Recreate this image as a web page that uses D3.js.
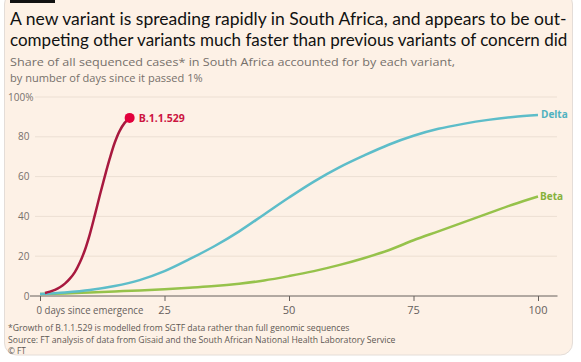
<!DOCTYPE html>
<html><head><meta charset="utf-8">
<script src="https://cdn.jsdelivr.net/npm/d3@7"></script>
<style>
html,body{margin:0;padding:0;background:#fff;}
svg{display:block;}
text{font-family:"Open Sans",Lato,sans-serif;}
</style></head>
<body>
<svg id="c" width="581" height="362"></svg>
<script>
// ---- data ----
const omicronDays = [1,2,3,4,5,6,7,8,9,10,11,12,13,14,15,16,17,18];
const omicronShare = [1.5,2.2,3.1,4.4,6.2,8.7,12,16.8,23,31,40.5,50.5,60,69,77,83,87,89.5];
const deltaDays = [0,5,10,15,20,25,30,35,40,45,50,55,60,65,70,75,80,85,90,95,100];
const deltaShare = [1,1.8,3,5,8,12.5,18.5,25,32.5,41,49.5,57.5,64.5,70.5,76,80.5,84,86.5,88.5,90,91];
const betaDays = [0,5,10,15,20,25,30,35,40,45,50,55,60,65,70,75,80,85,90,95,100];
const betaShare = [1,1.3,1.8,2.3,2.8,3.4,4.2,5,6.2,7.8,10,12.5,15.5,19,23,28,32.5,37,41.5,46,50];
const yTicks = [0,20,40,60,80,100];
const xTicks = [0,25,50,75,100];
const titleLines = ["A new variant is spreading rapidly in South Africa, and appears to be out-",
                    "competing other variants much faster than previous variants of concern did"];
const subtitleLines = ["Share of all sequenced cases* in South Africa accounted for by each variant,",
                       "by number of days since it passed 1%"];
const footLines = ["*Growth of B.1.1.529 is modelled from SGTF data rather than full genomic sequences",
                   "Source: FT analysis of data from Gisaid and the South African National Health Laboratory Service",
                   "© FT"];

const svg = d3.select("#c");
// card
svg.append("rect").attr("x",4.5).attr("y",-8).attr("width",568).attr("height",363)
  .attr("rx",12).attr("fill","#fdf1e6").attr("stroke","#e4ddd8").attr("stroke-width",1);
svg.append("rect").attr("x",10).attr("y",0).attr("width",45).attr("height",3).attr("fill","#111");

// place text at (x0,y0) and squeeze horizontally to a target width
function placeText(parent, str, x0, y0, size, fill, w, anchor, family){
  const s = parent.append("text").attr("font-size",size).attr("fill",fill).text(str);
  if (anchor) s.attr("text-anchor",anchor);
  if (family) s.style("font-family",family);
  let k = 1;
  if (w){ const nat = s.node().getComputedTextLength(); k = Math.min(1.15, w/nat); }
  s.attr("transform",`translate(${x0},${y0}) scale(${k},1)`);
  return s;
}
const tw = [557, 558];
titleLines.forEach((t,i)=> placeText(svg, t, 10, 24.5+i*21, 18, "#111", tw[i], null, "Lato"));
const sw = [445, 193];
subtitleLines.forEach((t,i)=> placeText(svg, t, 10, 66+i*15.5, 11, "#76706b", sw[i]));
const fw = [342, 388, null];
footLines.forEach((t,i)=> placeText(svg, t, 8, 331+i*11.5, 8.3, "#5e5853", fw[i]));

const x = d3.scaleLinear().domain([0,100]).range([40,538]);
const y = d3.scaleLinear().domain([0,100]).range([296,97]);

// gridlines
svg.append("g").selectAll("line").data(yTicks.filter(d=>d>0)).join("line")
  .attr("x1",35).attr("x2",557).attr("y1",d=>y(d)).attr("y2",d=>y(d))
  .attr("stroke","#ecdfd3").attr("stroke-width",1);
// y labels
svg.append("g").selectAll("text").data(yTicks).join("text")
  .attr("x",d=>d===100?8:29.5).attr("y",d=>y(d)).attr("dy","0.35em")
  .attr("text-anchor",d=>d===100?"start":"end")
  .attr("font-size",10).attr("fill","#77706b")
  .text(d=>d===100?"100%":d);

// x axis
const xAxis = d3.axisBottom(x).tickValues(xTicks).tickSize(5).tickFormat(()=> "");
const gx = svg.append("g").attr("transform",`translate(0,${y(0)})`).call(xAxis);
gx.select(".domain").remove();
gx.selectAll(".tick line").attr("stroke","#66605c");
svg.append("line").attr("x1",30).attr("x2",557.5).attr("y1",y(0)).attr("y2",y(0))
  .attr("stroke","#66605c").attr("stroke-width",1);
const gxl = svg.append("g");
xTicks.forEach(d=>{
  if (d===0) placeText(gxl, "0 days since emergence", x(d)-3.5, 314, 11, "#66605c", 107);
  else placeText(gxl, String(d), x(d), 314, 11, "#66605c", null, "middle");
});

const line = d3.line().x(d=>x(d[0])).y(d=>y(d[1])).curve(d3.curveCatmullRom.alpha(0.5));
const beta = betaDays.map((d,i)=>[d,betaShare[i]]);
const delta = deltaDays.map((d,i)=>[d,deltaShare[i]]);
const omi = omicronDays.map((d,i)=>[d,omicronShare[i]]);
svg.append("path").attr("d",line(beta)).attr("fill","none").attr("stroke","#96c24b").attr("stroke-width",2.5);
svg.append("path").attr("d",line(delta)).attr("fill","none").attr("stroke","#5dbdc9").attr("stroke-width",2.5);
svg.append("path").attr("d",line(omi)).attr("fill","none").attr("stroke","#a8193f").attr("stroke-width",2.5);
const last = omi[omi.length-1];
svg.append("circle").attr("cx",x(last[0])).attr("cy",y(last[1])).attr("r",5).attr("fill","#e2003c");

svg.append("text").attr("x",x(last[0])+9).attr("y",y(last[1])).attr("dy","0.35em")
  .attr("font-size",10.5).attr("font-weight","bold").attr("fill","#cc1440").text("B.1.1.529");
const dl = delta[delta.length-1], bl = beta[beta.length-1];
svg.append("text").attr("x",x(dl[0])+3).attr("y",y(dl[1])).attr("dy","0.35em")
  .attr("font-size",10).attr("font-weight","bold").attr("fill","#4fb2c0").text("Delta");
svg.append("text").attr("x",x(bl[0])+2).attr("y",y(bl[1])).attr("dy","0.35em")
  .attr("font-size",10).attr("font-weight","bold").attr("fill","#86b13c").text("Beta");
</script>
</body></html>
